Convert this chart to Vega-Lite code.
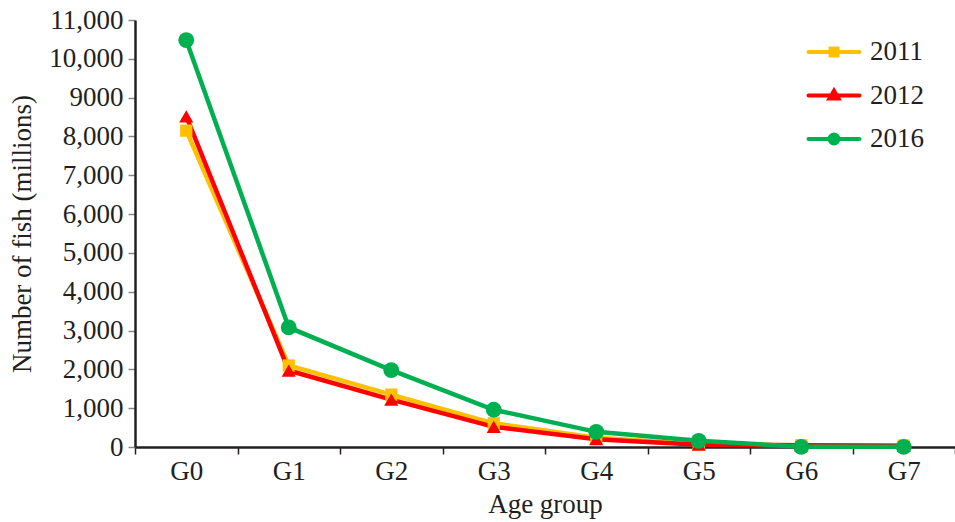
{
  "$schema": "https://vega.github.io/schema/vega-lite/v6.json",
  "autosize": {"type": "none"},
  "width": 820,
  "height": 427,
  "padding": {"left": 135, "top": 20, "right": 0, "bottom": 75},
  "background": "white",
  "config": {
    "font": "Times New Roman, Liberation Serif, serif",
    "view": {"stroke": null},
    "axis": {
      "labelFont": "Times New Roman, Liberation Serif, serif",
      "titleFont": "Times New Roman, Liberation Serif, serif",
      "labelColor": "#231f20",
      "titleColor": "#231f20",
      "titleFontWeight": "normal",
      "grid": false
    }
  },
  "data": {
    "values": [
      {"age": "G0", "year": "2011", "value": 8150},
      {"age": "G1", "year": "2011", "value": 2100},
      {"age": "G2", "year": "2011", "value": 1350},
      {"age": "G3", "year": "2011", "value": 610},
      {"age": "G4", "year": "2011", "value": 240},
      {"age": "G5", "year": "2011", "value": 70},
      {"age": "G6", "year": "2011", "value": 45},
      {"age": "G7", "year": "2011", "value": 35},
      {"age": "G0", "year": "2012", "value": 8520},
      {"age": "G1", "year": "2012", "value": 1970},
      {"age": "G2", "year": "2012", "value": 1220},
      {"age": "G3", "year": "2012", "value": 520},
      {"age": "G4", "year": "2012", "value": 200},
      {"age": "G5", "year": "2012", "value": 60},
      {"age": "G6", "year": "2012", "value": 45},
      {"age": "G7", "year": "2012", "value": 35},
      {"age": "G0", "year": "2016", "value": 10480},
      {"age": "G1", "year": "2016", "value": 3080},
      {"age": "G2", "year": "2016", "value": 1980},
      {"age": "G3", "year": "2016", "value": 960},
      {"age": "G4", "year": "2016", "value": 390},
      {"age": "G5", "year": "2016", "value": 160},
      {"age": "G6", "year": "2016", "value": 5},
      {"age": "G7", "year": "2016", "value": 5}
    ]
  },
  "encoding": {
    "x": {
      "field": "age",
      "type": "ordinal",
      "scale": {"type": "band", "paddingInner": 0, "paddingOuter": 0},
      "axis": {
        "title": "Age group",
        "labelAngle": 0,
        "labelFontSize": 27,
        "titleFontSize": 27,
        "tickBand": "extent",
        "tickSize": 7,
        "tickColor": "#231f20",
        "tickWidth": 1.5,
        "domainColor": "#231f20",
        "domainWidth": 2.5,
        "labelPadding": 4,
        "titlePadding": 7
      }
    },
    "y": {
      "field": "value",
      "type": "quantitative",
      "scale": {"domain": [0, 11000], "nice": false},
      "axis": {
        "title": "Number of fish (millions)",
        "values": [0, 1000, 2000, 3000, 4000, 5000, 6000, 7000, 8000, 9000, 10000, 11000],
        "labelExpr": "datum.value == 9000 ? '9000' : format(datum.value, ',')",
        "labelFontSize": 27,
        "titleFontSize": 27,
        "tickSize": 7,
        "tickColor": "#888888",
        "tickWidth": 1.5,
        "domainColor": "#231f20",
        "domainWidth": 2.5,
        "labelPadding": 5,
        "titlePadding": 12
      }
    },
    "color": {
      "field": "year",
      "type": "nominal",
      "scale": {"domain": ["2011", "2012", "2016"], "range": ["#FFC000", "#FF0000", "#00B050"]},
      "legend": {
        "title": null,
        "orient": "none",
        "legendX": 682,
        "legendY": 15,
        "padding": 0,
        "symbolSize": 900,
        "symbolStrokeWidth": 4,
        "rowPadding": 13.5,
        "labelOffset": 19,
        "labelFontSize": 27,
        "labelFont": "Times New Roman, Liberation Serif, serif",
        "labelColor": "#231f20",
        "encode": {
          "symbols": {
            "update": {
              "shape": {"signal": "datum.value == '2011' ? 'M-1.7,0H1.7M-0.23,-0.23H0.23V0.23H-0.23Z' : datum.value == '2012' ? 'M-1.7,0H1.7M0,-0.32L0.3,0.2H-0.3Z' : 'M-1.7,0H1.7M0.3,0A0.3,0.3 0 1,1 -0.3,0A0.3,0.3 0 1,1 0.3,0Z'"},
              "size": {"value": 900},
              "fill": {"scale": "color", "field": "value"},
              "stroke": {"scale": "color", "field": "value"},
              "fillOpacity": {"value": 1},
              "strokeWidth": {"value": 4},
              "strokeCap": {"value": "round"}
            }
          }
        }
      }
    }
  },
  "layer": [
    {
      "mark": {"type": "line", "strokeWidth": 4.5},
      "encoding": {}
    },
    {
      "mark": {"type": "point", "filled": true, "opacity": 1},
      "encoding": {
        "shape": {
          "condition": [
            {"test": "datum.year == '2011'", "value": "square"},
            {"test": "datum.year == '2012'", "value": "triangle-up"}
          ],
          "value": "circle"
        },
        "size": {
          "condition": [
            {"test": "datum.year == '2011'", "value": 150},
            {"test": "datum.year == '2012'", "value": 200}
          ],
          "value": 250
        }
      }
    }
  ]
}
